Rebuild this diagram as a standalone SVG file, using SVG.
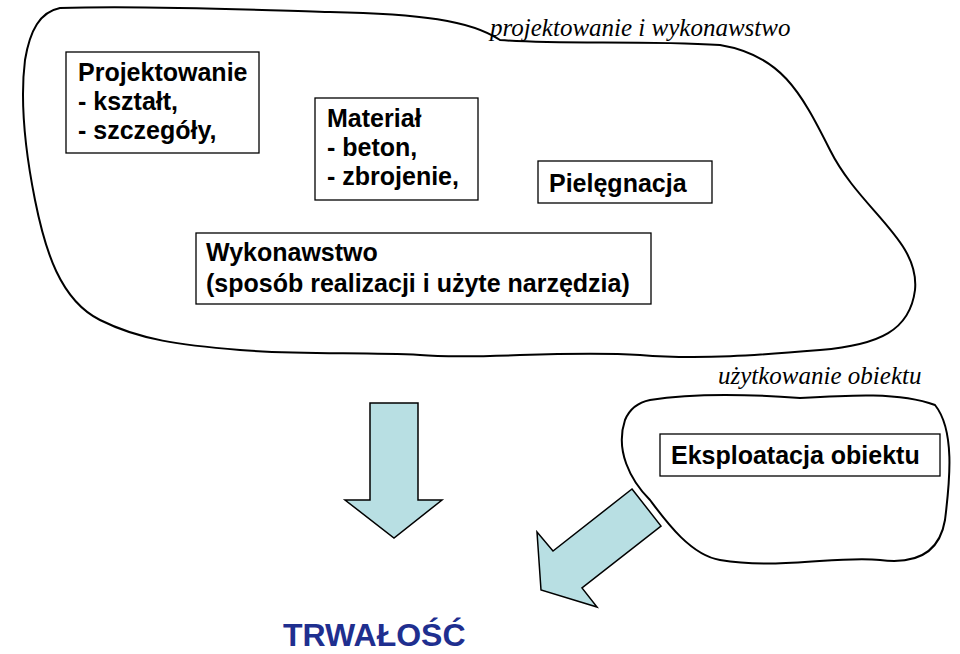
<svg xmlns="http://www.w3.org/2000/svg" width="960" height="654" viewBox="0 0 960 654">
<style>
.b{fill:#fff;stroke:#000;stroke-width:1.3}
.t{font-family:"Liberation Sans",Arial,sans-serif;font-size:25px;font-weight:bold;fill:#000}
.i{font-family:"Liberation Serif","Times New Roman",serif;font-style:italic;font-size:25px;fill:#000}
.blob{fill:none;stroke:#000;stroke-width:2}
.ar{fill:#b8dfe3;stroke:#000;stroke-width:1.5}
</style>
<rect width="960" height="654" fill="#fff"/>
<g id="outlines">
<path class="blob" d="M60,8 C150,5 250,10 330,12 C420,14 470,20 500,40 C560,45 640,40 720,45 C780,55 800,90 830,150 C860,210 920,240 915,290 C910,330 880,345 820,350 C760,355 700,360 640,355 C560,350 480,360 420,355 C360,352 300,355 240,350 C180,345 140,340 100,320 C60,300 45,250 35,200 C25,150 20,100 25,60 C30,30 40,12 60,8 Z"/>
<path class="blob" d="M650,400 C700,392 760,395 800,398 C850,395 900,392 935,405 C955,430 950,480 945,520 C940,550 920,565 880,560 C840,555 780,570 720,560 C690,555 665,520 650,500 C630,480 615,450 625,420 C630,408 640,402 650,400 Z"/>
</g>
<text class="i" x="490" y="36">projektowanie i wykonawstwo</text>
<text class="i" x="718" y="384">użytkowanie obiektu</text>
<g id="projektowanie"><rect class="b" x="66" y="52" width="193" height="101"/>
<text class="t" x="78" y="81">Projektowanie</text><text class="t" x="78" y="110">- kształt,</text><text class="t" x="78" y="139">- szczegóły,</text></g>
<g id="material"><rect class="b" x="315" y="98" width="163" height="102"/>
<text class="t" x="327" y="127">Materiał</text><text class="t" x="327" y="156">- beton,</text><text class="t" x="327" y="185">- zbrojenie,</text></g>
<g id="pielegnacja"><rect class="b" x="538" y="161" width="174" height="42"/>
<text class="t" x="549" y="192">Pielęgnacja</text></g>
<g id="wykonawstwo"><rect class="b" x="196" y="233" width="455" height="71"/>
<text class="t" x="206" y="261">Wykonawstwo</text><text class="t" x="206" y="292">(sposób realizacji i użyte narzędzia)</text></g>
<g id="eksploatacja"><rect class="b" x="660" y="434" width="280" height="42"/>
<text class="t" x="671" y="464">Eksploatacja obiektu</text></g>
<g id="connectors">
<polygon class="ar" points="370,403 418,403 418,500 442,500 394,538 345,500 370,500"/>
<polygon class="ar" points="632,489 661,526 582,588 597,607 541,590 537,532 553,551"/>
</g>
<g id="trwalosc"><text x="283" y="646" style="font-family:'Liberation Sans',Arial,sans-serif;font-size:32px;font-weight:bold;fill:#1f2f8f">TRWAŁOŚĆ</text></g>
</svg>
